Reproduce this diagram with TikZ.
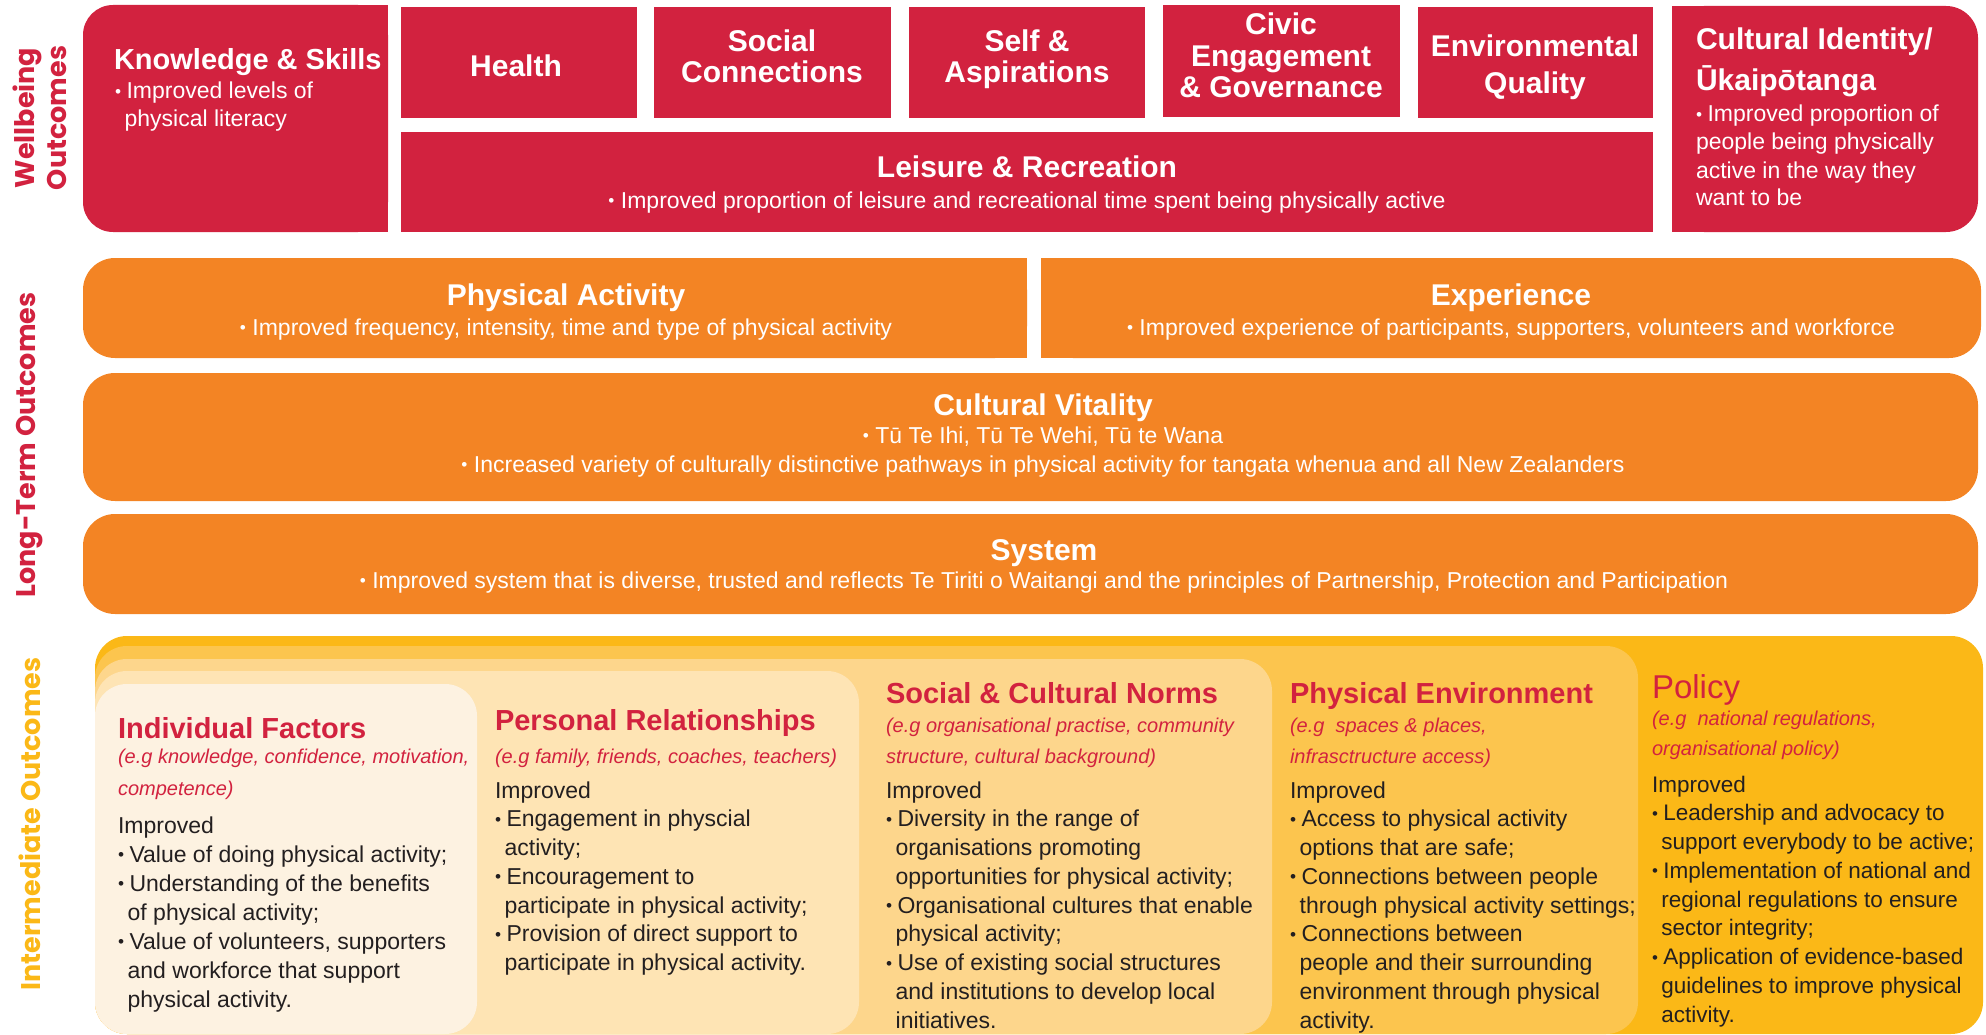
\documentclass[tikz,border=0pt]{standalone}
\usepackage{graphicx}
\usepackage{fontspec}
\setmainfont{Liberation Sans}
\newfontfamily\lblfont{Poppins}

\definecolor{wbred}{HTML}{D2223F}
\definecolor{ltorange}{HTML}{F38424}
\definecolor{ygold}{HTML}{FBB817}
\definecolor{ylayerA}{HTML}{FCC54E}
\definecolor{ylayerB}{HTML}{FDD68C}
\definecolor{ylayerC}{HTML}{FEE4B4}
\definecolor{ylayerD}{HTML}{FDF2E1}
\definecolor{inktext}{HTML}{231F20}

% small bullet with a gap, and the matching hanging indent
\newcommand\smallbullet{\raisebox{0.06em}{\scalebox{0.75}{\textbullet}}}
\newcommand\bl{\makebox[0.5em][l]{\smallbullet}}
\newcommand\ind{\hspace*{0.42em}}

% multi-line nodes sit on the baseline of their last line
\tikzset{
  every node/.style={inner sep=0pt, outer sep=0pt},
  wbtitle/.style={text=white, font=\fontsize{30}{31}\selectfont\bfseries, align=center, anchor=base},
  wbhead/.style={text=white, font=\fontsize{30}{41}\selectfont\bfseries, align=left, anchor=base west},
  wbbody/.style={text=white, font=\fontsize{23}{28}\selectfont, align=left, anchor=base west},
  ltbody/.style={text=white, font=\fontsize{23}{29}\selectfont, align=center, anchor=base},
  iotitle/.style={text=wbred, font=\fontsize{29}{30}\selectfont\bfseries, anchor=base west},
  ioeg/.style={text=wbred, font=\fontsize{20}{31}\selectfont\itshape, align=left, anchor=base west},
  iobody/.style={text=inktext, font=\fontsize{23}{28.75}\selectfont, align=left, anchor=base west},
  sidelabel/.style={font=\lblfont\bfseries\fontsize{27}{32}\selectfont, rotate=90, align=center},
}

\begin{document}
\begin{tikzpicture}[x=1pt, y=-1pt]
\useasboundingbox (0,0) rectangle (1986,1035);

% ---------- wellbeing outcomes (red) ----------
\fill[wbred, rounded corners=30] (83,5) rectangle (388,232);
\fill[wbred] (240,5) rectangle (388,232);
\fill[wbred] (401,7) rectangle (637,118);
\fill[wbred] (654,7) rectangle (891,118);
\fill[wbred] (909,7) rectangle (1145,118);
\fill[wbred] (1163,5) rectangle (1400,117);
\fill[wbred] (1418,7) rectangle (1653,118);
\fill[wbred] (401,132) rectangle (1653,232);
\fill[wbred, rounded corners=32] (1672,6) rectangle (1978,232);
\fill[wbred] (1672,6) rectangle (1800,232);

\node[sidelabel, text=wbred] (wblabel) at (40,118) {Wellbeing\\Outcomes};

\node[wbtitle, font=\fontsize{29}{30}\selectfont\bfseries, anchor=base west, align=left] (ks) at (114,70) {Knowledge \& Skills};
\node[wbbody] (ksbody) at (115,127) {\bl Improved levels of\\\ind physical literacy};
\node[wbtitle] (health) at (516,77) {Health};
\node[wbtitle] (social) at (772,83) {Social\\Connections};
\node[wbtitle] (self) at (1027,83) {Self \&\\Aspirations};
\node[wbtitle, font=\fontsize{30}{31.5}\selectfont\bfseries] (civic) at (1281,98) {Civic\\Engagement\\\& Governance};
\node[wbtitle, font=\fontsize{30}{37}\selectfont\bfseries] (env) at (1535,94) {Environmental\\Quality};
\node[wbtitle] (leisure) at (1027,178) {Leisure \& Recreation};
\node[ltbody] (leisurebody) at (1027,208) {\smallbullet\ Improved proportion of leisure and recreational time spent being physically active};
\node[wbhead] (cult) at (1696,91) {Cultural Identity/\\Ūkaipōtanga};
\node[wbbody] (cultbody) at (1696,206) {\bl Improved proportion of\\people being physically\\active in the way they\\want to be};

% ---------- long-term outcomes (orange) ----------
\fill[ltorange, rounded corners=32] (83,258) rectangle (1027,358);
\fill[ltorange] (500,258) rectangle (1027,358);
\fill[ltorange, rounded corners=32] (1041,258) rectangle (1981,358);
\fill[ltorange] (1041,258) rectangle (1500,358);
\fill[ltorange, rounded corners=32] (83,373) rectangle (1978,501);
\fill[ltorange, rounded corners=32] (83,514) rectangle (1978,614);

\node[sidelabel, text=wbred] (ltlabel) at (30,445) {Long-Term Outcomes};

\node[wbtitle] (pa) at (566,305) {Physical Activity};
\node[ltbody] (pabody) at (566,335) {\smallbullet\ Improved frequency, intensity, time and type of physical activity};
\node[wbtitle] (exp) at (1511,305) {Experience};
\node[ltbody] (expbody) at (1511,335) {\smallbullet\ Improved experience of participants, supporters, volunteers and workforce};
\node[wbtitle] (cv) at (1043,415) {Cultural Vitality};
\node[ltbody] (cvbody) at (1043,472) {\smallbullet\ Tū Te Ihi, Tū Te Wehi, Tū te Wana\\\smallbullet\ Increased variety of culturally distinctive pathways in physical activity for tangata whenua and all New Zealanders};
\node[wbtitle] (sys) at (1044,560) {System};
\node[ltbody] (sysbody) at (1044,588) {\smallbullet\ Improved system that is diverse, trusted and reflects Te Tiriti o Waitangi and the principles of Partnership, Protection and Participation};

% ---------- intermediate outcomes (layered yellows) ----------
\fill[ygold, rounded corners=32] (95,636) rectangle (1983,1034);
\fill[ylayerA, rounded corners=32] (95,646) rectangle (1638,1034);
\fill[ylayerB, rounded corners=32] (95,659) rectangle (1272,1034);
\fill[ylayerC, rounded corners=32] (95,671) rectangle (859,1034);
\fill[ylayerD, rounded corners=32] (95,684) rectangle (477,1034);

\node[sidelabel, text=ygold] (iolabel) at (30,824) {Intermediate Outcomes};

% individual factors
\node[iotitle] (indiv) at (118,738) {Individual Factors};
\node[ioeg, font=\fontsize{20}{32}\selectfont\itshape] (indiveg) at (118,795) {(e.g knowledge, confidence, motivation,\\competence)};
\node[iobody, font=\fontsize{23}{29}\selectfont] (indivbody) at (118,1007) {Improved\\\bl Value of doing physical activity;\\\bl Understanding of the benefits\\\ind of physical activity;\\\bl Value of volunteers, supporters\\\ind and workforce that support\\\ind physical activity.};

% personal relationships
\node[iotitle] (pers) at (495,730) {Personal Relationships};
\node[ioeg] (perseg) at (495,763) {(e.g family, friends, coaches, teachers)};
\node[iobody] (persbody) at (495,970.5) {Improved\\\bl Engagement in physcial\\\ind activity;\\\bl Encouragement to\\\ind participate in physical activity;\\\bl Provision of direct support to\\\ind participate in physical activity.};

% social and cultural norms
\node[iotitle] (norms) at (886,703) {Social \& Cultural Norms};
\node[ioeg] (normseg) at (886,763) {(e.g organisational practise, community\\structure, cultural background)};
\node[iobody] (normsbody) at (886,1028) {Improved\\\bl Diversity in the range of\\\ind organisations promoting\\\ind opportunities for physical activity;\\\bl Organisational cultures that enable\\\ind physical activity;\\\bl Use of existing social structures\\\ind and institutions to develop local\\\ind initiatives.};

% physical environment
\node[iotitle] (penv) at (1290,703) {Physical Environment};
\node[ioeg] (penveg) at (1290,763) {(e.g\ \ spaces \& places,\\infrasctructure access)};
\node[iobody] (penvbody) at (1290,1028) {Improved\\\bl Access to physical activity\\\ind options that are safe;\\\bl Connections between people\\\ind through physical activity settings;\\\bl Connections between\\\ind people and their surrounding\\\ind environment through physical\\\ind activity.};

% policy
\node[text=wbred, font=\fontsize{33}{34}\selectfont, anchor=base west] (policy) at (1652,698) {Policy};
\node[ioeg, font=\fontsize{20}{30}\selectfont\itshape] (policyeg) at (1652,755) {(e.g\ \ national regulations,\\organisational policy)};
\node[iobody, font=\fontsize{22.5}{28.75}\selectfont] (policybody) at (1652,1022) {Improved\\\bl Leadership and advocacy to\\\ind support everybody to be active;\\\bl Implementation of national and\\\ind regional regulations to ensure\\\ind sector integrity;\\\bl Application of evidence-based\\\ind guidelines to improve physical\\\ind activity.};

\end{tikzpicture}
\end{document}
